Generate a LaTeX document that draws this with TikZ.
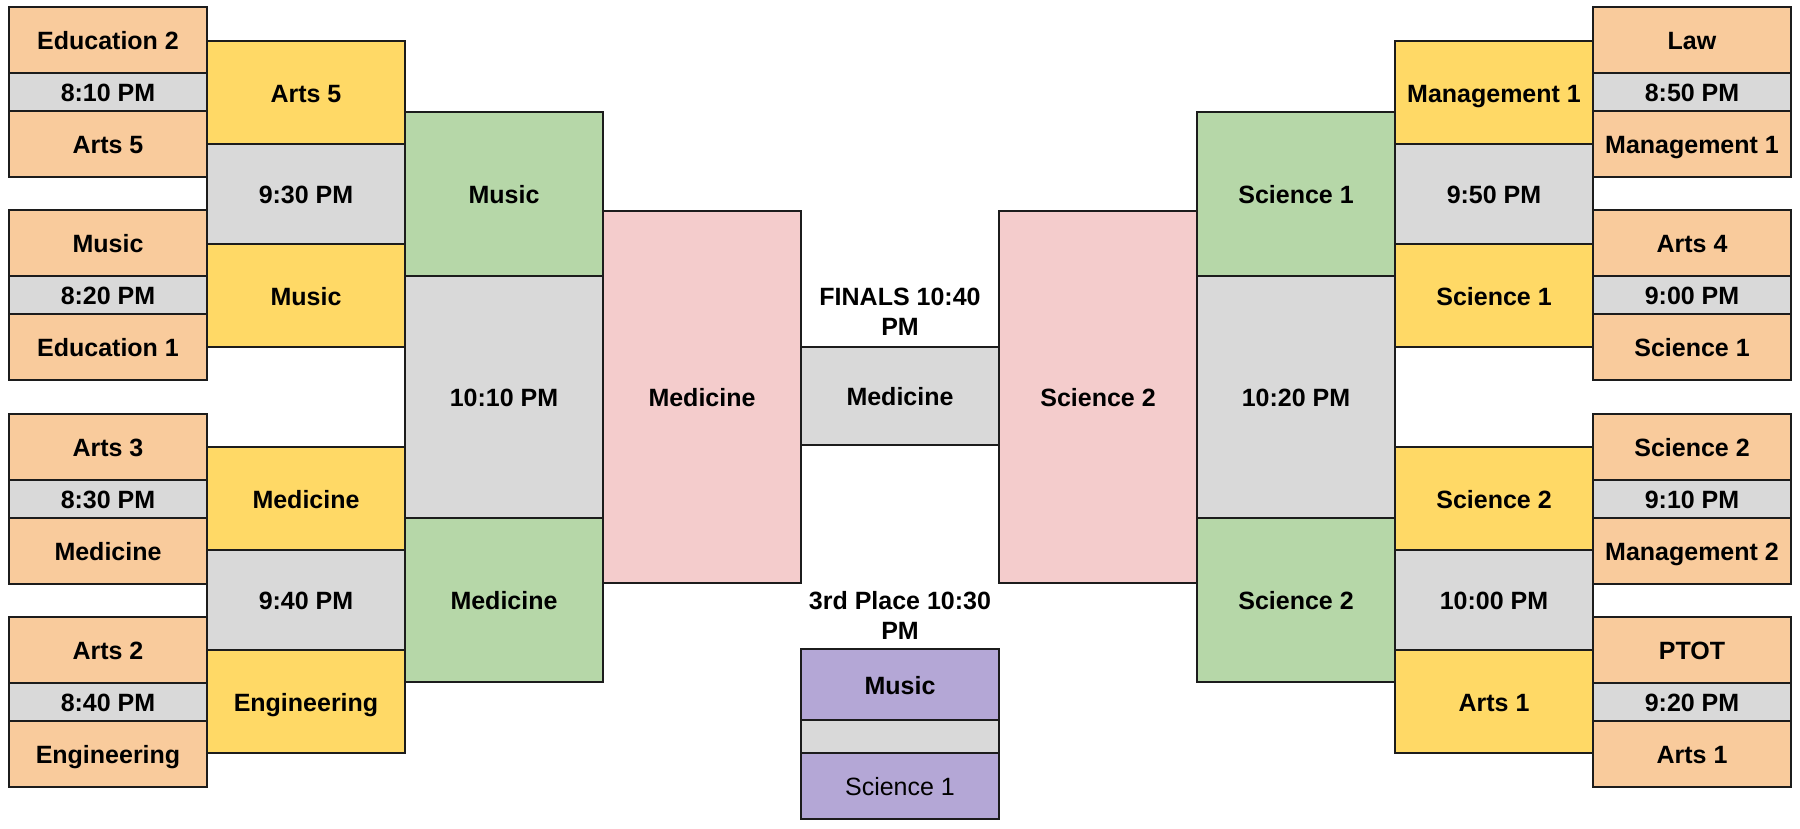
\documentclass[tikz,border=0pt]{standalone}
\usepackage{fontspec}
\setmainfont{Liberation Sans}
\definecolor{peach}{HTML}{F9CB9C}
\definecolor{gry}{HTML}{D9D9D9}
\definecolor{yel}{HTML}{FFD966}
\definecolor{grn}{HTML}{B6D7A8}
\definecolor{pnk}{HTML}{F4CCCC}
\definecolor{prp}{HTML}{B4A7D6}
\definecolor{edge}{HTML}{1C1C1C}
\begin{document}
\begin{tikzpicture}[x=1pt,y=-1pt,
  box/.style={draw=edge,line width=1.6pt,anchor=north west,minimum width=198pt,inner sep=0pt,outer sep=0pt,
    text height=24pt,text depth=5pt,
    font=\bfseries\fontsize{25}{30}\selectfont,align=center},
  pe/.style={box,fill=peach},
  gr/.style={box,fill=gry},
  ye/.style={box,fill=yel},
  gn/.style={box,fill=grn},
  pk/.style={box,fill=pnk},
  pu/.style={box,fill=prp},
  lbl/.style={font=\bfseries\fontsize{25}{30}\selectfont,align=center,inner sep=0pt}]
\useasboundingbox (0,0) rectangle (1800,828);
% ---------- left outer column ----------
\node[pe,minimum height=66pt] (la1) at (9,7) {Education 2};
\node[gr,minimum height=38pt] (lt1) at (9,73) {8:10 PM};
\node[pe,minimum height=66pt] (lb1) at (9,111) {Arts 5};
\node[pe,minimum height=66pt] (la2) at (9,210) {Music};
\node[gr,minimum height=38pt] (lt2) at (9,276) {8:20 PM};
\node[pe,minimum height=66pt] (lb2) at (9,314) {Education 1};
\node[pe,minimum height=66pt] (la3) at (9,414) {Arts 3};
\node[gr,minimum height=38pt] (lt3) at (9,480) {8:30 PM};
\node[pe,minimum height=66pt] (lb3) at (9,518) {Medicine};
\node[pe,minimum height=66pt] (la4) at (9,617) {Arts 2};
\node[gr,minimum height=38pt] (lt4) at (9,683) {8:40 PM};
\node[pe,minimum height=66pt] (lb4) at (9,721) {Engineering};
% ---------- left yellow column ----------
\node[ye,minimum height=103pt] (ly1) at (207,41) {Arts 5};
\node[gr,minimum height=100pt] (lq1) at (207,144) {9:30 PM};
\node[ye,minimum height=103pt] (ly2) at (207,244) {Music};
\node[ye,minimum height=103pt] (ly3) at (207,447) {Medicine};
\node[gr,minimum height=100pt] (lq2) at (207,550) {9:40 PM};
\node[ye,minimum height=103pt] (ly4) at (207,650) {Engineering};
% ---------- left green column ----------
\node[gn,minimum height=164pt] (lg1) at (405,112) {Music};
\node[gr,minimum height=242pt] (ls1) at (405,276) {10:10 PM};
\node[gn,minimum height=164pt] (lg2) at (405,518) {Medicine};
% ---------- left pink ----------
\node[pk,minimum height=372pt] (lp) at (603,211) {Medicine};
% ---------- centre ----------
\node[gr,minimum height=98pt] (fin) at (801,347) {Medicine};
\node[lbl] (finlbl) at (900,312) {FINALS 10:40\\PM};
\node[pu,minimum height=71pt] (tp1) at (801,649) {Music};
\node[gr,minimum height=33pt,text height=0pt,text depth=0pt] (tpt) at (801,720) {};
\node[pu,minimum height=66pt,font=\fontsize{25}{30}\selectfont] (tp2) at (801,753) {Science 1};
\node[lbl] (tplbl) at (900,615) {3rd Place 10:30\\PM};
% ---------- right pink ----------
\node[pk,minimum height=372pt] (rp) at (999,211) {Science 2};
% ---------- right green column ----------
\node[gn,minimum height=164pt] (rg1) at (1197,112) {Science 1};
\node[gr,minimum height=242pt] (rs1) at (1197,276) {10:20 PM};
\node[gn,minimum height=164pt] (rg2) at (1197,518) {Science 2};
% ---------- right yellow column ----------
\node[ye,minimum height=103pt] (ry1) at (1395,41) {Management 1};
\node[gr,minimum height=100pt] (rq1) at (1395,144) {9:50 PM};
\node[ye,minimum height=103pt] (ry2) at (1395,244) {Science 1};
\node[ye,minimum height=103pt] (ry3) at (1395,447) {Science 2};
\node[gr,minimum height=100pt] (rq2) at (1395,550) {10:00 PM};
\node[ye,minimum height=103pt] (ry4) at (1395,650) {Arts 1};
% ---------- right outer column ----------
\node[pe,minimum height=66pt] (ra1) at (1593,7) {Law};
\node[gr,minimum height=38pt] (rt1) at (1593,73) {8:50 PM};
\node[pe,minimum height=66pt] (rb1) at (1593,111) {Management 1};
\node[pe,minimum height=66pt] (ra2) at (1593,210) {Arts 4};
\node[gr,minimum height=38pt] (rt2) at (1593,276) {9:00 PM};
\node[pe,minimum height=66pt] (rb2) at (1593,314) {Science 1};
\node[pe,minimum height=66pt] (ra3) at (1593,414) {Science 2};
\node[gr,minimum height=38pt] (rt3) at (1593,480) {9:10 PM};
\node[pe,minimum height=66pt] (rb3) at (1593,518) {Management 2};
\node[pe,minimum height=66pt] (ra4) at (1593,617) {PTOT};
\node[gr,minimum height=38pt] (rt4) at (1593,683) {9:20 PM};
\node[pe,minimum height=66pt] (rb4) at (1593,721) {Arts 1};
\end{tikzpicture}
\end{document}
